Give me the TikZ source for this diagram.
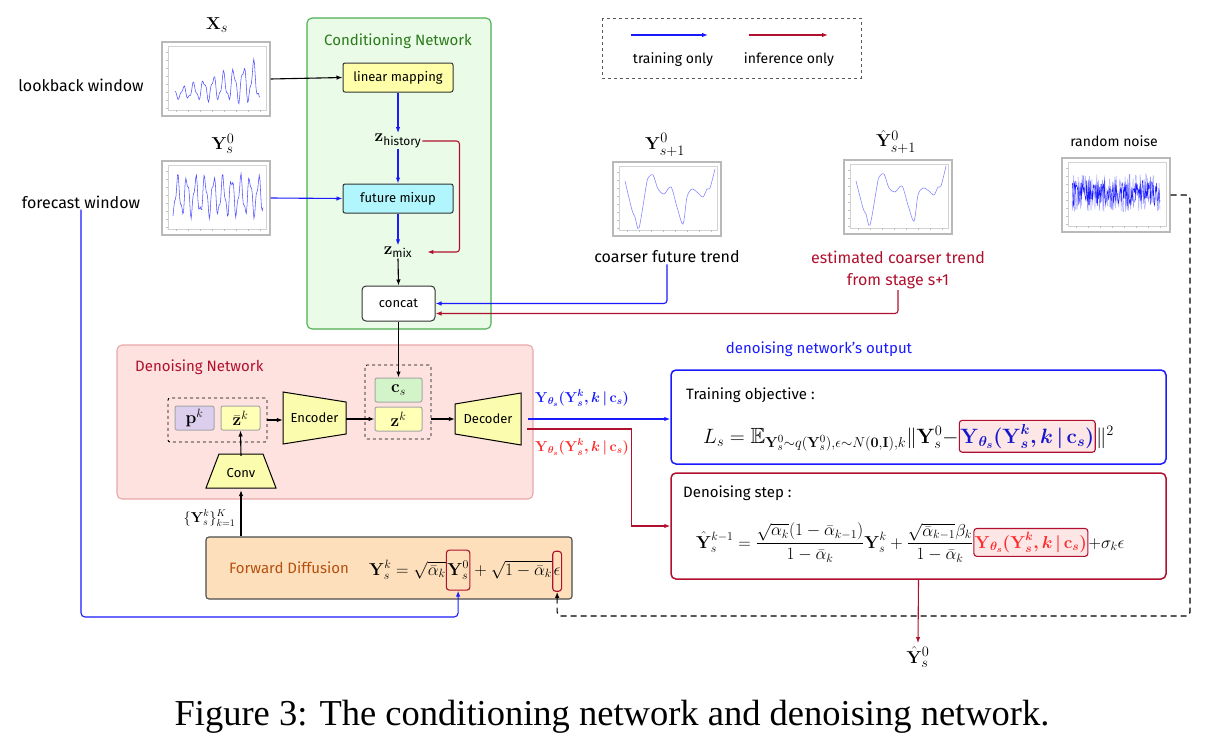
\documentclass[tikz,border=0pt]{standalone}
\usepackage[no-math]{fontspec}
\setmainfont{Fira Sans}
\newfontfamily\capfont{Liberation Serif}
\usepackage{amsmath,amssymb,bm}
\usetikzlibrary{arrows.meta}

\definecolor{trainblue}{HTML}{1A1AFF}
\definecolor{dkred}{HTML}{B0102E}
\definecolor{condfill}{HTML}{EAFBE8}
\definecolor{conddraw}{HTML}{4CAF50}
\definecolor{condtitle}{HTML}{2A7A1A}
\definecolor{linfill}{HTML}{FFFFAA}
\definecolor{mixfill}{HTML}{B0F6FC}
\definecolor{denfill}{HTML}{FDE2DF}
\definecolor{dendraw}{HTML}{E8A8A8}
\definecolor{pkfill}{HTML}{DCCFEE}
\definecolor{zfill}{HTML}{FFFFB5}
\definecolor{csfill}{HTML}{D3F4C8}
\definecolor{trapfill}{HTML}{FCFCAE}
\definecolor{fwdfill}{HTML}{FDE0BB}
\definecolor{fwdtitle}{HTML}{B5500F}
\definecolor{hlfill}{HTML}{FDE6E6}
\definecolor{plotblue}{HTML}{5050FF}
\definecolor{trendblue}{HTML}{8888FF}
\definecolor{outred}{HTML}{FF2A2A}

\newcommand\plotaxes{%
  \draw [gray!35, line width=0.3pt] (-48,-33) rectangle (50,31);
  \foreach \t in {-27,-19,...,29} \draw [gray!50, line width=0.2pt] (-50,\t) -- (-48,\t);
  \foreach \t in {-40,-28,...,44} \draw [gray!50, line width=0.2pt] (\t,31) -- (\t,33);
}

\tikzset{
  txt/.style={font=\fontsize{15}{18}\selectfont, inner sep=1pt},
  plotbox/.style={draw=gray!55, line width=1.4pt, fill=white, minimum width=108pt, minimum height=74pt, inner sep=0pt},
  plotline/.style={draw=plotblue, line width=0.55pt},
  netbox/.style={draw=black!80, line width=1pt, rounded corners=2pt, minimum width=110pt, minimum height=29pt, font=\fontsize{13}{15}\selectfont},
  cellbox/.style={draw=gray!70, line width=1pt, rounded corners=2pt, minimum width=39pt, minimum height=24pt, inner sep=0pt, font=\fontsize{17}{19}\selectfont},
  grpbox/.style={draw, dashed, line width=0.9pt, rounded corners=2pt, inner sep=0pt},
  trapshape/.style={draw=black, fill=trapfill, line width=1pt},
  trapname/.style={font=\fontsize{13}{15}\selectfont, inner sep=0pt},
  arr/.style={-{Latex[length=6pt,width=4.5pt]}, line width=1.1pt},
  trainln/.style={arr, draw=trainblue},
  inferln/.style={arr, draw=dkred},
  frm/.style={inner sep=0pt, anchor=base west},
  hl/.style={draw=dkred, line width=1.1pt, rounded corners=3pt, inner xsep=1pt, inner ysep=4pt, anchor=base west}
}

\begin{document}
\begin{tikzpicture}[x=1pt, y=-1pt]
\useasboundingbox (0,0) rectangle (1224,750);
%
% containers
\draw [conddraw, fill=condfill, line width=1.1pt, rounded corners=5pt] (307,18) rectangle (491,329);
\draw [dendraw, fill=denfill, line width=1.1pt, rounded corners=5pt] (117,345) rectangle (533,499);
\draw [gray!70!black, dashed, line width=1pt] (602,18) rectangle (861,78);
%
% input windows
\node (lookback) [txt, font=\fontsize{16}{19}\selectfont] at (81,85) {lookback window};
\node (forecast) [txt, font=\fontsize{16}{19}\selectfont] at (81,202) {forecast window};
\node (xlabel) at (217,25) {\fontsize{19}{22}\selectfont $\mathbf{X}_s$};
\node (xplot) [plotbox] at (216,79) {};
\begin{scope}[shift={(xplot.center)}]
\plotaxes
\draw [plotline] plot [domain=-41:44, samples=110] (\x, {15-0.15*(\x+41) + (4+0.17*(\x+41))*(sin(36*\x)+0.35*sin(83*\x))});
\end{scope}
\node (ylabel) at (223,144) {\fontsize{19}{22}\selectfont $\mathbf{Y}_s^0$};
\node (yplot) [plotbox] at (216,198) {};
\begin{scope}[shift={(yplot.center)}]
\plotaxes
\draw [plotline] plot [domain=-43:47, samples=120] (\x, {-2 + 17*(sin(40*\x)+0.35*sin(97*\x))});
\end{scope}
%
% conditioning network
\node (condtitle) [txt, text=condtitle] at (398,41) {Conditioning Network};
\node (linmap) [netbox, fill=linfill] at (398,77.5) {linear mapping};
\node (zhist) [inner sep=1pt] at (398,141) {\fontsize{17}{19}\selectfont $\mathbf{z}_{\text{history}}$};
\node (fmix) [netbox, fill=mixfill] at (398,198.5) {future mixup};
\node (zmix) [inner sep=1pt] at (398,252) {\fontsize{17}{19}\selectfont $\mathbf{z}_{\text{mix}}$};
\node (concat) [netbox, fill=white, minimum width=73pt, minimum height=35pt, rounded corners=4pt] at (398.5,303.5) {concat};
%
\draw [arr] (xplot.east) -- (linmap.west);
\draw [trainln] (yplot.east) -- (fmix.west);
\draw [trainln] (linmap.south) -- (zhist.north);
\draw [trainln] (zhist.south) -- (fmix.north);
\draw [trainln] (fmix.south) -- (zmix.north);
\draw [inferln, rounded corners=3pt] (zhist.east) -- ++(37,0) |- ([xshift=14pt]zmix.east);
\draw [arr] (zmix.south) -- (concat.north);
%
% legend
\coordinate (tr1) at (631,35);
\coordinate (tr2) at (708,35);
\coordinate (in1) at (749,35);
\coordinate (in2) at (828,35);
\draw [trainln] (tr1) -- (tr2);
\draw [inferln] (in1) -- (in2);
\node (trlabel) [txt, font=\fontsize{14}{17}\selectfont] at (673,60) {training only};
\node (inlabel) [txt, font=\fontsize{14}{17}\selectfont] at (789,60) {inference only};
%
% coarser trends and noise
\node (y1label) at (665,145) {\fontsize{19}{22}\selectfont $\mathbf{Y}_{s+1}^0$};
\node (trplot) [plotbox] at (667,199) {};
\begin{scope}[shift={(trplot.center)}]
\plotaxes
\draw [draw=trendblue, line width=0.6pt] plot [smooth, tension=0.5] coordinates {(-42,-18) (-35,11) (-32,18) (-28,29) (-21,-12) (-19,-21) (-14,-24) (-9,-10) (-3,-5) (4,-12) (10,8) (16,25) (20,-2) (25,-10) (31,-6) (36,-2) (40,-10) (43,-11) (48,-30)};
\end{scope}
\node (ctrend) [txt, font=\fontsize{16}{19}\selectfont] at (667,257) {coarser future trend};
%
\node (y1hlabel) at (896,142) {\fontsize{19}{22}\selectfont $\hat{\mathbf{Y}}_{s+1}^0$};
\node (estplot) [plotbox] at (898,197) {};
\begin{scope}[shift={(estplot.center)}]
\plotaxes
\draw [draw=trendblue, line width=0.6pt] plot [smooth, tension=0.5] coordinates {(-42,-16) (-35,11) (-32,17) (-28,28) (-21,-11) (-19,-20) (-14,-23) (-9,-9) (-3,-5) (4,-11) (10,8) (16,24) (20,-2) (25,-9) (31,-6) (36,-2) (40,-10) (43,-11) (48,-31)};
\end{scope}
\node (est) [txt, font=\fontsize{16}{22}\selectfont, text=dkred, align=center] at (898,270) {estimated coarser trend\\from stage s+1};
%
\node (noiselabel) [txt, font=\fontsize{14}{17}\selectfont] at (1114,141) {random noise};
\node (noiseplot) [plotbox] at (1116,195) {};
\begin{scope}[shift={(noiseplot.center)}]
\plotaxes
\pgfmathsetseed{12}
\draw [draw=trainblue!45, line width=0.4pt] plot [domain=-44:44, samples=200] (\x, {-2+19*rand});
\draw [draw=trainblue, line width=0.4pt] plot [domain=-44:44, samples=160] (\x, {-2+13*rand});
\end{scope}
%
\draw [trainln, rounded corners=3pt] (ctrend.south) |- (concat.east);
\draw [inferln, rounded corners=3pt] (est.south) |- ([yshift=-10pt]concat.east);
%
% denoising network
\node (dentitle) [txt, text=dkred, anchor=west] at (134,367) {Denoising Network};
\node (grp1) [grpbox, minimum width=99pt, minimum height=44pt] at (217.5,420) {};
\node (pk) [cellbox, fill=pkfill] at (194.5,418) {$\mathbf{p}^k$};
\node (zbar) [cellbox, fill=zfill] at (240.5,418) {$\bar{\mathbf{z}}^k$};
\node (grp2) [grpbox, minimum width=66pt, minimum height=74pt] at (398,402) {};
\node (cs) [cellbox, fill=csfill, minimum width=47pt] at (398.5,390) {$\mathbf{c}_s$};
\node (zk) [cellbox, fill=zfill, minimum width=47pt] at (398.5,419) {$\mathbf{z}^k$};
%
\draw [trapshape] (283,392) -- (346,402) -- (346,434) -- (283,444) -- cycle;
\draw [trapshape] (455,404) -- (521,393) -- (521,445) -- (455,434) -- cycle;
\draw [trapshape] (206,488) -- (219,454) -- (263,454) -- (276,488) -- cycle;
\node (enc) [trapname, minimum width=63pt, minimum height=52pt] at (314.5,418) {Encoder};
\node (dec) [trapname, minimum width=66pt, minimum height=52pt] at (488,419) {Decoder};
\node (conv) [trapname, minimum width=70pt, minimum height=34pt] at (241,473) {Conv};
%
\draw [arr] (grp1.east) -- (enc.west |- grp1.east);
\draw [arr] (enc.east |- zk.west) -- (zk.west);
\draw [arr] (grp2.east |- zk.east) -- (dec.west |- zk.east);
\draw [arr] (conv.north) -- (zbar.south);
\draw [arr] (concat.south) -- (cs.north);
%
% forward diffusion
\node (fwd) [draw=black!70, fill=fwdfill, line width=1.1pt, rounded corners=3pt, minimum width=366pt, minimum height=62pt] at (389,568) {};
\node (fwdtitle) [txt, text=fwdtitle] at (289,568) {Forward Diffusion};
\begin{scope}[font=\fontsize{16.5}{20}\selectfont]
\node (fd1) [frm] at (369,575) {$\mathbf{Y}_s^k=\sqrt{\bar{\alpha}_k}$};
\node (hy0) [hl, minimum height=40pt] at (fd1.base east) {$\mathbf{Y}_s^0$};
\node (fd2) [frm] at (hy0.base east) {${}+\sqrt{1-\bar{\alpha}_k}$};
\node (heps) [hl, minimum height=40pt] at (fd2.base east) {$\epsilon$};
\end{scope}
\draw [arr] (conv.south |- fwd.north) -- (conv.south);
\node (ykset) [anchor=east, font=\fontsize{14}{16}\selectfont] at (239,518) {$\{\mathbf{Y}_s^k\}_{k=1}^K$};
%
% outputs of the decoder
\node (outblue) [text=trainblue, font=\fontsize{14}{16}\selectfont] at (582,398) {$\bm{\mathbf{Y}_{\theta_s}(\mathbf{Y}_s^k,k\,|\,\mathbf{c}_s)}$};
\node (outred) [text=outred, font=\fontsize{14}{16}\selectfont] at (582,447) {$\bm{\mathbf{Y}_{\theta_s}(\mathbf{Y}_s^k,k\,|\,\mathbf{c}_s)}$};
\node (outtitle) [txt, text=trainblue] at (819,349) {denoising network's output};
%
\node (train) [draw=trainblue, line width=1.5pt, rounded corners=5pt, minimum width=495pt, minimum height=94pt] at (918.5,417) {};
\node (trainname) [txt, anchor=west] at (685,395) {Training objective :};
\begin{scope}[font=\fontsize{22}{25}\selectfont]
\node (ls1) [frm] at (703,443) {$L_s=\mathbb{E}_{\mathbf{Y}_s^0\sim q(\mathbf{Y}_s^0),\epsilon\sim N(\mathbf{0},\mathbf{I}),k}\|\mathbf{Y}_s^0-$};
\node (ls2) [hl, fill=hlfill, text=trainblue!80!black] at (ls1.base east) {$\bm{\mathbf{Y}_{\theta_s}(\mathbf{Y}_s^k,k\,|\,\mathbf{c}_s)}$};
\node (ls3) [frm] at (ls2.base east) {$\|^2$};
\end{scope}
%
\node (step) [draw=dkred, line width=1.5pt, rounded corners=5pt, minimum width=495pt, minimum height=106pt] at (918.5,526) {};
\node (stepname) [txt, anchor=west] at (682,493) {Denoising step :};
\begin{scope}[font=\fontsize{17.5}{20}\selectfont]
\node (ds1) [frm] at (696,548) {$\displaystyle\hat{\mathbf{Y}}_s^{k-1}=\frac{\sqrt{\alpha_k}(1-\bar{\alpha}_{k-1})}{1-\bar{\alpha}_k}\mathbf{Y}_s^k+\frac{\sqrt{\bar{\alpha}_{k-1}}\beta_k}{1-\bar{\alpha}_k}$};
\node (ds2) [hl, fill=hlfill, text=outred] at (ds1.base east) {$\bm{\mathbf{Y}_{\theta_s}(\mathbf{Y}_s^k,k\,|\,\mathbf{c}_s)}$};
\node (ds3) [frm] at (ds2.base east) {$+\sigma_k\epsilon$};
\end{scope}
\node (yout) at (918,657) {\fontsize{19}{22}\selectfont $\hat{\mathbf{Y}}_s^0$};
%
\draw [trainln] ([xshift=7pt]dec.east |- zk.east) -- (train.west |- zk.east);
\draw [inferln] ([xshift=6pt,yshift=-10pt]dec.east |- zk.east) -- ++(104,0) |- (step.west);
\draw [inferln] (step.south) -- (yout.north);
%
% long feedback paths
\coordinate (fcorner) at (81,617);
\coordinate (ncorner) at (1190,616);
\draw [trainln, rounded corners=4pt] (forecast.south) -- (fcorner) -| (hy0.south);
\draw [arr, dashed, line width=1.2pt, dash pattern=on 6pt off 4pt, rounded corners=4pt] (noiseplot.east) -| (ncorner) -| (heps.south);
%
\node (caption) [font=\capfont\fontsize{36.5}{40}\selectfont] at (612,717) {Figure 3: The conditioning network and denoising network.};
\end{tikzpicture}
\end{document}
